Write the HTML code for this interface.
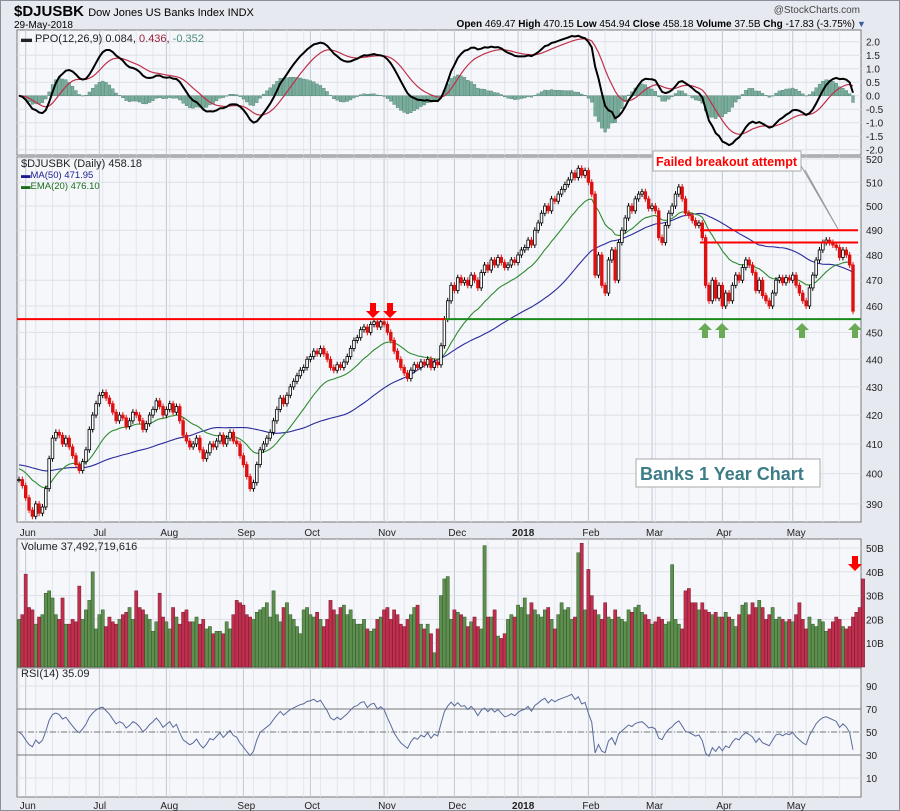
<!DOCTYPE html>
<html><head><meta charset="utf-8"><style>
body{margin:0;background:#dfe3ea;font-family:"Liberation Sans",sans-serif}
svg{display:block}
</style></head><body>
<svg id="c" width="900" height="811" viewBox="0 0 900 811" xmlns="http://www.w3.org/2000/svg">
<rect x="0.5" y="0.5" width="899" height="810" fill="#e6e9ef" stroke="#8a8f99"/>
<text x="14" y="16" font-size="15" font-weight="bold" fill="#000">$DJUSBK <tspan font-size="11" font-weight="normal">Dow Jones US Banks Index  INDX</tspan></text>
<text x="14" y="28" font-size="10" fill="#000">29-May-2018</text>
<text x="860" y="13" font-size="10" fill="#444" text-anchor="end">@StockCharts.com</text>
<text x="855" y="27" font-size="10" fill="#000" text-anchor="end"><tspan font-weight="bold">Open</tspan> 469.47 <tspan font-weight="bold">High</tspan> 470.15 <tspan font-weight="bold">Low</tspan> 454.94 <tspan font-weight="bold">Close</tspan> 458.18 <tspan font-weight="bold">Volume</tspan> 37.5B <tspan font-weight="bold">Chg</tspan> -17.83 (-3.75%)</text>
<text x="857" y="27" font-size="9" fill="#3a5a9a">▼</text>
<g id="g"></g>
</svg>
<script>
const closes=[398,396,392,388,386,390,387,389,395,
405,412,414,413,410,412,409,406,
403,401,404,408,415,420,424,
427,428,426,424,421,418,420,
419,416,418,421,420,418,415,
417,420,422,425,423,420,422,
424,421,423,418,413,411,409,
410,412,408,405,407,410,409,
411,413,410,412,414,411,410,
406,403,399,395,397,403,408,
410,412,414,418,422,426,424,
427,430,432,434,436,437,440,
441,443,442,444,442,440,437,
436,438,437,439,441,444,447,
448,451,452,450,453,454,452,
454,453,450,447,443,440,437,
435,433,436,438,437,439,438,
440,437,439,438,445,455,462,
468,466,471,469,470,468,472,
470,467,473,476,474,478,476,
479,477,475,476,478,477,480,
482,483,486,484,490,493,497,
500,498,503,502,505,507,509,
511,514,512,516,513,515,510,
505,472,480,468,465,478,482,
470,485,490,495,500,498,503,
505,506,503,499,500,498,487,
485,492,497,500,505,508,503,
497,496,494,492,493,487,468,
462,470,463,468,460,465,462,
468,472,470,475,478,476,473,
466,470,464,462,460,465,470,
471,469,471,470,472,468,465,
462,460,467,472,478,482,485,
486,485,484,483,479,482,480,
476,458];
const volumes=[20,22,39,25,24,18,21,22,31,32,29,22,20,29,18,18,20,19,34,20,24,28,40,16,22,24,17,21,19,18,20,22,23,25,20,32,25,24,22,20,15,19,31,21,19,16,25,21,18,23,24,19,19,21,18,20,16,17,14,15,15,14,19,16,22,28,27,26,22,21,20,23,24,25,27,21,32,22,19,25,27,22,20,17,14,24,25,22,21,23,20,17,20,28,24,22,25,26,22,24,20,18,18,20,16,15,16,20,21,24,25,20,24,22,18,17,20,22,25,26,18,16,18,14,6,16,30,37,38,20,24,23,22,21,17,19,21,17,16,51,21,21,24,13,12,14,20,22,21,26,25,29,22,27,24,22,21,24,25,20,16,22,27,24,25,20,21,48,52,24,41,30,24,22,20,27,21,20,24,21,20,19,24,23,25,26,23,22,20,18,19,21,20,18,19,43,20,18,16,32,33,27,27,24,27,24,23,22,23,21,21,23,21,20,17,22,26,27,22,27,25,28,25,20,22,25,20,21,20,19,20,19,22,27,20,16,21,18,17,20,19,15,16,19,21,20,17,16,17,21,23,25,37];
const priceTicks=[520,510,500,490,480,470,460,450,440,430,420,410,400,390];
const ppoTicks=[2.0,1.5,1.0,0.5,0.0,-0.5,-1.0,-1.5,-2.0];
const volTicks=[50,40,30,20,10];
const rsiTicks=[90,70,50,30,10];
const monthLabels=["Jun","Jul","Aug","Sep","Oct","Nov","Dec","2018","Feb","Mar","Apr","May"];
const monthIdx=[2,24,44,67,87,109,130,149,170,189,210,231];

const NS="http://www.w3.org/2000/svg",G=document.getElementById('g');
const L=17,R=861,n=closes.length;
const X=i=>19+i*(834/(n-1));
const PY=p=>159+1199*Math.log(520/p);
const PPY=v=>95.7-v*27;
const VY=v=>667-v*2.38;
const RY=r=>732-(r-50)*1.15;
function el(t,a,p){const e=document.createElementNS(NS,t);for(const k in a)e.setAttribute(k,a[k]);(p||G).appendChild(e);return e;}
function txt(x,y,s,a){const e=el('text',Object.assign({x,y,'font-size':11,fill:'#222'},a||{}));e.textContent=s;return e;}
function panel(y0,y1,name){
  const r=el('rect',{x:L,y:y0,width:R-L,height:y1-y0,fill:'#f5f7fb',stroke:'#777'});
  
  
  for(let i=0;i<n;i+=5){el('line',{x1:X(i),x2:X(i),y1:y0,y2:y1,stroke:'#e2e5ec','stroke-width':1});}
  monthIdx.forEach(i=>el('line',{x1:X(i),x2:X(i),y1:y0,y2:y1,stroke:'#c3c7d0','stroke-width':1}));
}
panel(30,155,'ppo-panel');
ppoTicks.forEach(t=>{el('line',{x1:L,x2:R,y1:PPY(t),y2:PPY(t),stroke:'#dde0e7'});const e=txt(866,PPY(t)+4,t.toFixed(1),{'font-size':10});});
panel(157,522,'price-panel');
priceTicks.forEach(t=>{el('line',{x1:L,x2:R,y1:PY(t),y2:PY(t),stroke:'#dde0e7'});const e=txt(866,PY(t)+4,String(t),{'font-size':10});});
panel(539,668,'volume-panel');
volTicks.forEach(t=>{el('line',{x1:L,x2:R,y1:VY(t),y2:VY(t),stroke:'#dde0e7'});const e=txt(866,VY(t)+4,t+'B',{'font-size':10});});
panel(668,797,'rsi-panel');
rsiTicks.forEach(t=>{el('line',{x1:L,x2:R,y1:RY(t),y2:RY(t),stroke:'#dde0e7'});const e=txt(866,RY(t)+4,String(t),{'font-size':10});});
[536,809].forEach(yy=>monthLabels.forEach((m,k)=>{const e=txt(X(monthIdx[k])-6,yy,m,{'font-size':10,'font-weight':m==='2018'?'bold':'normal'});}));

function ema(arr,p,seed){const k=2/(p+1);let e=seed!==undefined?seed:arr[0];return arr.map(v=>e=v*k+e*(1-k));}
const ema12=ema(closes,12),ema26=ema(closes,26);
const ppo=ema12.map((v,i)=>(v-ema26[i])/ema26[i]*100);
const sig=ema(ppo,9),hist=ppo.map((v,i)=>v-sig[i]);
const ema20=ema(closes,20,402);
const ma50=closes.map((c,i)=>{let s=0;for(let j=i-49;j<=i;j++)s+=j<0?403:closes[j];return s/50;});
let ag=1.5,al=1.5;const rsi=closes.map((c,i)=>{if(i===0)return 50;const d=c-closes[i-1];const g=Math.max(d,0),l=Math.max(-d,0);ag=(ag*13+g)/14;al=(al*13+l)/14;return al===0?100:100-100/(1+ag/al);});

hist.forEach((h,i)=>{const y0=PPY(0),y1=PPY(h);const r=el('rect',{x:X(i)-1.4,y:Math.min(y0,y1),width:2.8,height:Math.abs(y1-y0)+0.1,fill:'#79ad9c',stroke:'#4d7f70','stroke-width':0.4});});
function line(arr,f,c,w,name){const e=el('polyline',{points:arr.map((v,i)=>X(i)+','+f(v)).join(' '),fill:'none',stroke:c,'stroke-width':w});return e;}
line(sig,PPY,'#c0304a',1.2,'ppo-signal-line');
line(ppo,PPY,'#000',2,'ppo-line');
const lg=txt(21,42,'',{'font-size':11});lg.innerHTML='<tspan font-weight="bold">▬</tspan> PPO(12,26,9) 0.084, <tspan fill="#a0203a">0.436</tspan>, <tspan fill="#4d8f7f">-0.352</tspan>';


line(ma50,PY,'#2a2a9a',1.1,'ma50-line');
line(ema20,PY,'#2f8a2f',1.1,'ema20-line');
closes.forEach((c,i)=>{const o=i?closes[i-1]:c;const up=c>=o;const x=X(i);
  const hi=Math.max(o,c),lo=Math.min(o,c);
  const w=el('line',{x1:x,x2:x,y1:PY(hi)-3,y2:PY(lo)+3,stroke:up?'#000':'#e01010','stroke-width':1});
  
  const b=el('rect',{x:x-1.3,y:PY(hi),width:2.6,height:Math.max(1,PY(lo)-PY(hi)),fill:up?'#fff':'#e01010',stroke:up?'#000':'#e01010','stroke-width':0.8});
  });
const pl=txt(21,167,'',{'font-size':11});pl.innerHTML='$DJUSBK (Daily) 458.18';
const m5=txt(21,178,'',{'font-size':9.5,fill:'#1c1c90'});m5.textContent='▬MA(50) 471.95';
const e2=txt(21,189,'',{'font-size':9.5,fill:'#1a6d1a'});e2.textContent='▬EMA(20) 476.10';

const support=455,res1=490,res2=485;
let a=el('line',{x1:L,x2:445,y1:PY(support),y2:PY(support),stroke:'#f00','stroke-width':2});
a=el('line',{x1:445,x2:R,y1:PY(support),y2:PY(support),stroke:'#1a8a1a','stroke-width':2});
a=el('line',{x1:700,x2:R-3,y1:PY(res1),y2:PY(res1),stroke:'#f00','stroke-width':2});
a=el('line',{x1:700,x2:R-3,y1:PY(res2),y2:PY(res2),stroke:'#f00','stroke-width':2});
function arrow(x,y,dir,c,name){const d=dir==='down'?`M${x-3},${y} h6 v8 h4 l-7,7 l-7,-7 h4 z`:`M${x-3},${y} h6 v-8 h4 l-7,-7 l-7,7 h4 z`;const e=el('path',{d,fill:c});}
arrow(373,303,'down','#f00','red-arrow');arrow(390,303,'down','#f00','red-arrow');
[705,722,802,855].forEach(x=>arrow(x,338,'up','#6aaa55','green-arrow'));
arrow(855,556,'down','#f00','volume-red-arrow');
a=el('polyline',{points:'800,164 838,229 805,170',fill:'none',stroke:'#999','stroke-width':1});
a=el('rect',{x:653,y:151,width:148,height:20,fill:'#fff',stroke:'#aaa'});
a=txt(656,166,'Failed breakout attempt',{'font-size':12.5,'font-weight':'bold',fill:'#f00'});
a=el('rect',{x:636,y:459,width:184,height:28,fill:'#fff',stroke:'#aaa'});
a=txt(640,480,'Banks 1 Year Chart',{'font-size':18,'font-weight':'bold',fill:'#3d7d88'});

volumes.forEach((v,i)=>{const up=i===0||closes[i]>=closes[i-1];const r=el('rect',{x:X(i)-1.6,y:VY(v),width:3.2,height:667-VY(v),fill:up?'#5f8f4f':'#c0304e',stroke:up?'#2f5a2a':'#7a1a30','stroke-width':0.5});});
a=txt(21,550,'Volume 37,492,719,616',{'font-size':11});

[70,30].forEach(t=>el('line',{x1:L,x2:R,y1:RY(t),y2:RY(t),stroke:'#777','stroke-width':1}));
el('line',{x1:L,x2:R,y1:RY(50),y2:RY(50),stroke:'#777','stroke-dasharray':'6,2,1,2'});
line(rsi,RY,'#5a6a9a',1,'rsi-line');
a=txt(21,677,'RSI(14) 35.09',{'font-size':11});
</script>
</body></html>
